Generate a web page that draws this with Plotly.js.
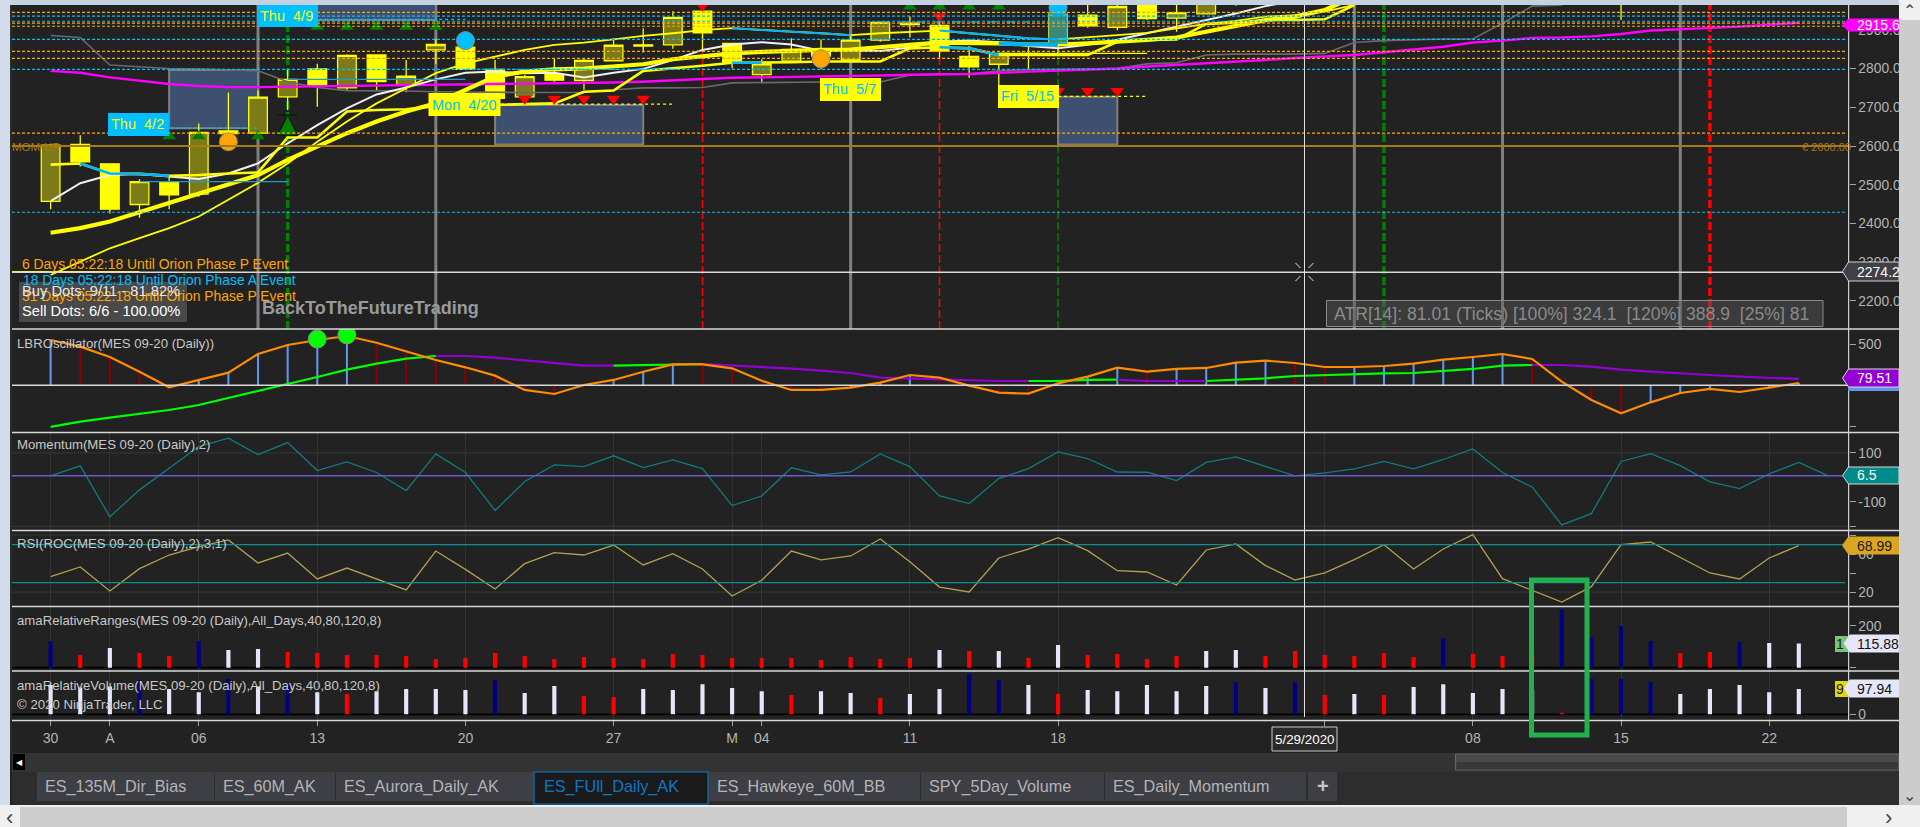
<!DOCTYPE html>
<html><head><meta charset="utf-8">
<script src="https://cdn.plot.ly/plotly-3.0.1.min.js"></script>
<style>html,body{margin:0;padding:0;background:#cdd6e4;overflow:hidden}#c{width:1920px;height:827px}</style>
</head><body><div id="c"></div>
<script>
const open_=[2457,2604,2554,2449,2508,2476,2639,2633,2727,2799,2750,2835,2757,2848,2855,2798,2727,2784,2769,2820,2861,2861,2948,2865,2784,2819,2841,2822,2873,2917,2911,2831,2811,2839,2865,2938,2906,2972,2930,2941,2975,2975,3000,3030,3040,3060,3080,3110,3120,3210,3200,3120,2995,3000,3060,3120,3100,3090,3120,3090];
const close_=[2602,2559,2437,2508,2474,2635,2632,2726,2772,2756,2834,2766,2780,2862,2798,2723,2779,2770,2821,2860,2858,2932,2892,2813,2812,2849,2832,2873,2919,2913,2845,2804,2839,2837,2940,2910,2960,2929,2944,2972,2968,3030,2995,3045,3060,3080,3115,3115,3195,3205,3190,3005,3040,3065,3125,3110,3115,3095,3110,3117];
const high_=[2605,2628,2554,2514,2521,2658,2738,2743,2798,2812,2837,2835,2822,2877,2891,2822,2783,2826,2826,2878,2904,2948,2972,2865,2824,2878,2875,2886,2921,2935,2934,2858,2839,2856,2964,2964,2964,2985,2964,2985,2990,3040,3020,3050,3065,3090,3125,3130,3200,3230,3215,3130,3050,3080,3150,3135,3125,3115,3125,3125];
const low_=[2437,2547,2426,2415,2437,2469,2624,2633,2693,2701,2743,2743,2739,2812,2798,2719,2727,2766,2745,2820,2841,2851,2843,2800,2762,2819,2798,2822,2869,2880,2826,2776,2757,2798,2835,2905,2899,2925,2895,2941,2962,2970,2985,3000,3040,3060,3075,3090,3110,3190,3175,2995,2985,2925,3050,3090,3090,3075,3080,3080];
const maWhite=[2458,2504,2525,2528,2521,2515,2529,2555,2607,2654,2697,2733,2751,2772,2789,2792,2788,2789,2777,2789,2799,2822,2848,2862,2868,2862,2846,2845,2845,2854,2869,2872,2868,2858,2852,2861,2874,2891,2908,2925,2942,2961,2975];
const maMagenta=[2794,2789,2777,2768,2760,2755,2752,2752,2753,2753,2754,2755,2756,2757,2759,2760,2760,2762,2763,2764,2766,2770,2773,2776,2777,2778,2780,2781,2782,2784,2785,2786,2789,2792,2794,2797,2800,2805,2809,2813,2818,2822,2827,2831,2835,2842,2849,2856,2867,2872,2879,2880,2883,2889,2898,2901,2905,2908,2913,2918];
const maGray=[2885,2880,2809,2805,2800,2799,2796,2794,2766,2751,2743,2743,2742,2740,2739,2738,2738,2738,2738,2745,2750,2750,2751,2763,2764,2765,2765,2765,2765,2783,2786,2786,2794,2797,2798,2798,2800,2812,2815,2835,2837,2837,2837,2839,2867,2872,2874,2876,2876,2917,2961,2964];
const maThick=[2376,2388,2405,2429,2454,2478,2502,2525,2564,2598,2633,2663,2689,2710,2745,2779,2792,2798,2800,2805,2811,2824,2831,2839,2843,2846,2848,2849,2854,2861,2867,2867,2865,2862,2862,2865,2869,2874,2880,2895,2910,2925,2934,2951,2985];
const maThin=[2267,2302,2336,2362,2388,2418,2461,2505,2555,2611,2663,2710,2749,2788,2813,2831,2848,2861,2867,2875,2884,2891,2899,2904,2899,2895,2891,2886,2891,2895,2898,2891,2884,2878,2875,2880,2886,2892,2904,2915,2923,2934,2938,2947,2964];
const maStep=[2552,2555,2529,2528,2523,2525,2529,2532,2622,2622,2689,2693,2695,2703,2706,2706,2708,2710,2740,2743,2794,2800,2807,2815,2815,2816,2818,2818,2818,2852,2855,2852,2835,2835,2835,2835,2869,2874,2875,2915,2918,2925,2925,2927,2964];
const blueRuns=[['step',1,4],['step',23,24],['step',30,32],['thin',23,27],['thin',30,34],['thick',32,34]];
const orangeLevels=[2945,2917,2909,2844,2826,2633];
const cyanLevels=[2935,2922,2875,2798,2429];
const grayEvents=[7,13,27,44,49,55];
const greenEvents=[[8,3.5],[34,1.5],[45,3.5]];
const redEvents=[[22,1.5],[30,1.5],[56,3.5]];
const boxFrom=[4,7,15,34], boxTo=[7,13,20,36], boxLow=[2646,2925,2604,2604], boxHigh=[2796,3000,2706,2727];
const trendUp=[4,5,7,9,10,11,12,13,29,30,31,32], trendUpVal=[2625,2625,2625,2908,2908,2908,2908,2908,2960,2960,2960,2960];
const trendDown=[16,17,18,19,20,22,30,34,35,36], trendDownVal=[2722,2722,2722,2722,2722,2962,2935,2742,2742,2742];
const orangeDotX=[6,26], orangeDotY=[2611,2825];
const blueDotX=[14,34], blueDotY=[2872,2957];
const lbrOsc=[549,468,343,165,-24,65,153,379,488,549,597,516,416,307,218,117,-56,-105,4,65,165,254,254,206,56,-56,-56,-28,32,125,93,-4,-89,-101,24,105,214,165,198,210,274,299,270,222,222,234,262,311,343,379,319,44,-178,-339,-206,-93,-44,-81,-28,28];
const lbrSignal=[-504,-440,-391,-343,-299,-238,-153,-77,16,101,190,262,323,355,355,335,303,270,238,238,246,258,258,242,222,202,178,149,93,81,69,61,52,52,52,65,69,52,52,52,65,85,113,125,137,145,149,174,198,238,246,246,226,190,165,149,125,105,93,77];
const lbrHistDir='brrrrbbbbbbrrrrrrrbbbbrrrrrbbbrrrrbbbrbbbbrrbbbbbbrrrrbbbrbb';
const lbrGreenRuns=[[0,13],[19,22],[33,36],[39,50]];
const lbrPurpleRuns=[[13,19],[22,33],[36,39],[50,59]];
const lbrDotX=[9,10], lbrDotY=[560,610];
const momentum=[6,47,-161,-51,37,126,160,93,142,28,63,20,-54,96,20,-135,-17,51,44,88,40,71,36,-115,-76,39,10,22,96,44,-76,-107,-5,36,104,77,22,21,-13,61,84,44,6,18,35,65,35,73,116,20,-39,-194,-148,65,97,48,-18,-46,14,61,6.5];
const rsi=[36.3,46.5,21.2,44.7,59.1,67.9,74.9,50.7,61.2,33.9,45.4,33.9,22.3,63.3,44,23.3,50,61.6,59.1,69.6,48.6,60.5,44.4,16,32.5,63.3,53.9,58.1,76,52.1,25.4,20.2,56,65.4,77.4,63.7,42.6,41.2,27.5,64.4,70.7,47.9,32.8,40.2,54.2,70,44.4,65.4,80.5,34.2,21.9,9.6,25.8,70,72.8,56.3,40.2,33.9,56,68.99];
const rangesVal=[126,61,94,70,56,126,85,90,75,70,61,61,56,42,46,70,56,42,51,46,42,66,61,46,46,46,37,51,42,46,85,80,80,46,109,61,66,42,56,80,85,56,80,61,56,70,51,138,66,56,61,277,147,200,128,70,75,123,118,115.88];
const rangesClass='nrwrrnwwrrrrrrrrrrrrrrrrrrrrrrwrwrwrrrrwwrrrrrrnrrrnnnnrrnww';
const volumeVal=[114,104,108,133,98,86,137,108,120,86,79,90,98,98,94,133,83,110,71,67,98,94,117,102,90,75,90,83,63,79,98,156,133,114,79,94,90,114,90,110,125,102,125,75,79,75,106,117,83,98,94,6,137,137,125,79,98,114,86,97.94];
const volumeClass='wwwnwwnwnwrwwwwnwwrrwwwwwrwwrwwnnwrwwwwwnwnrwrwwwwwrnnnwwwww';
const xTickVals=[0,2,5,9,14,19,23,24,29,34,43,48,53,58];
const xTickText=['30','A','06','13','20','27','M','04','11','18','','08','15','22'];
const tabNames=['ES_135M_Dir_Bias','ES_60M_AK','ES_Aurora_Daily_AK','ES_FUll_Daily_AK','ES_Hawkeye_60M_BB','SPY_5Day_Volume','ES_Daily_Momentum'];
const tabLeft=[37,215,336,534,709,921,1105], tabRight=[214,335,533,708,920,1104,1306];

const W=1920,H=827,F='"Liberation Sans",Arial,sans-serif';
const px=x=>x/W, py=y=>1-y/H;
const idx=a=>a.map((_,i)=>i);
const dom=(t,b)=>[1-b/H,1-t/H];
const xr=[-1.303,60.68];
function run(arr,a,b){return arr.map((v,i)=>(i>=a&&i<=b)?v:null);}
const traces=[];
function line(y,color,width,xa,ya,dash){traces.push({type:'scatter',mode:'lines',x:idx(y),y:y,xaxis:xa,yaxis:ya,line:{color:color,width:width,dash:dash||'solid'},connectgaps:false,hoverinfo:'skip'});}
line(maGray,'#6a6a6a',1.6,'x2','y');
traces.push({type:'candlestick',x:idx(open_),open:open_,high:high_,low:low_,close:close_,xaxis:'x2',yaxis:'y',
 increasing:{line:{color:'#ffff00',width:1.3},fillcolor:'#7d7a18'},decreasing:{line:{color:'#ffff00',width:1.3},fillcolor:'#ffff00'},whiskerwidth:0,hoverinfo:'skip'});
line(maMagenta,'#ff00ff',2.4,'x2','y');
line(maWhite,'#f0f0f5',2,'x2','y');
line(maThin,'#ffff00',1.8,'x2','y');
line(maStep,'#ffff00',2.6,'x2','y');
line(maThick,'#ffff00',4.2,'x2','y');
const maMap={step:[maStep,2.6],thin:[maThin,2],thick:[maThick,4.2]};
blueRuns.forEach(r=>line(run(maMap[r[0]][0],r[1],r[2]),'#00b4ff',maMap[r[0]][1],'x2','y'));
const segs=[[-1.3,3,2276,'#ffff00','solid'],[3,8,2508,'#1f9bd0','solid'],[8,14,2772,'#1f9bd0','solid'],[4.05,6.95,2646,'#00bfff','dot'],[8.05,14,2927,'#00bfff','dot'],[14,21,2798,'#00bfff','dot'],[15,21,2708,'#ffff00','dot'],[34,37,2728,'#ffff00','dot'],[28,33,2920,'#00bfff','dash'],[32,37,2839,'#ffff00','solid']];
segs.forEach(s=>traces.push({type:'scatter',mode:'lines',x:[s[0],s[1]],y:[s[2],s[2]],xaxis:'x2',yaxis:'y',line:{color:s[3],width:1.2,dash:s[4]},hoverinfo:'skip'}));
function mk(x,y,sym,col,size,lc,xa,ya){traces.push({type:'scatter',mode:'markers',x:x,y:y,xaxis:xa||'x2',yaxis:ya||'y',marker:{symbol:sym,color:col,size:size,line:{color:lc||col,width:lc?1:0}},hoverinfo:'skip'});}
mk(trendUp,trendUpVal,'triangle-up','#008000',12);
mk(trendDown,trendDownVal,'triangle-down','#ff0000',12);
mk(orangeDotX,orangeDotY,'circle','#ffa500',18,'#888888');
mk(blueDotX,blueDotY,'circle','#00bfff',18,'#888888');
traces.push({type:'scatter',mode:'markers',x:[8],y:[2680],xaxis:'x2',yaxis:'y',marker:{symbol:'arrow-bar-up',color:'#008000',size:20,line:{color:'#0a0a0a',width:1}},hoverinfo:'skip'});
traces.push({type:'bar',x:idx(lbrOsc),y:lbrOsc,xaxis:'x2',yaxis:'y2',width:0.07,marker:{color:lbrOsc.map((_,i)=>lbrHistDir[i]==='r'?'#8b0000':'#6495ed')},hoverinfo:'skip'});
lbrPurpleRuns.forEach(r=>line(run(lbrSignal,r[0],r[1]),'#9400d3',2.2,'x2','y2'));
lbrGreenRuns.forEach(r=>line(run(lbrSignal,r[0],r[1]),'#00ff00',2.2,'x2','y2'));
line(lbrOsc,'#ff8c00',2.2,'x2','y2');
mk(lbrDotX,lbrDotY,'circle','#00ff00',18,'#888888','x2','y2');
line(momentum,'#0e7c80',1.3,'x','y3');
line(rsi,'#b0a050',1.3,'x','y4');
const clsCol={n:'#000080',r:'#ff0000',w:'#e6e6fa'};
traces.push({type:'bar',x:idx(rangesVal),y:rangesVal,xaxis:'x',yaxis:'y5',width:0.14,marker:{color:rangesVal.map((_,i)=>clsCol[rangesClass[i]])},hoverinfo:'skip'});
traces.push({type:'bar',x:idx(volumeVal),y:volumeVal,xaxis:'x',yaxis:'y6',width:0.14,marker:{color:volumeVal.map((_,i)=>clsCol[volumeClass[i]])},hoverinfo:'skip'});

const shapes=[],ann=[];
function rectP(x0,y0,x1,y1,fill,lc,lw,layer){shapes.push({type:'rect',xref:'paper',yref:'paper',x0:px(x0),x1:px(x1),y0:py(y0),y1:py(y1),fillcolor:fill,line:{color:lc||fill,width:lw===undefined?0:lw},layer:layer||'above'});}
function lineP(x0,y0,x1,y1,c,w,layer){shapes.push({type:'line',xref:'paper',yref:'paper',x0:px(x0),x1:px(x1),y0:py(y0),y1:py(y1),line:{color:c,width:w},layer:layer||'above'});}
function txt(x,y,t,col,size,opts){ann.push(Object.assign({xref:'paper',yref:'paper',x:px(x),y:py(y),text:t,showarrow:false,xanchor:'left',yanchor:'middle',borderpad:0,borderwidth:0,font:{family:F,color:col,size:size}},opts||{}));}
function tag(t,y0,y1,fill,tc,border,x){x=x||1842.5;shapes.push({type:'path',xref:'paper',yref:'paper',layer:'above',fillcolor:fill,line:{color:border||fill,width:1},path:`M ${px(x)} ${py((y0+y1)/2)} L ${px(x+6)} ${py(y0)} L ${px(1899)} ${py(y0)} L ${px(1899)} ${py(y1)} L ${px(x+6)} ${py(y1)} Z`});txt(1857,(y0+y1)/2,t,tc,14,{width:42,height:18,align:'left'});}
grayEvents.forEach(i=>shapes.push({type:'line',xref:'x2',yref:'paper',x0:i,x1:i,y0:py(329),y1:py(5),line:{color:'#808080',width:3},layer:'below'}));
redEvents.forEach(e=>shapes.push({type:'line',xref:'x2',yref:'paper',x0:e[0],x1:e[0],y0:py(329),y1:py(5),line:{color:'#ff0000',width:e[1],dash:'8px,3px'},layer:'below'}));
greenEvents.forEach(e=>shapes.push({type:'line',xref:'x2',yref:'paper',x0:e[0],x1:e[0],y0:py(329),y1:py(5),line:{color:'#008000',width:e[1],dash:'8px,3px'},layer:'below'}));
boxFrom.forEach((a,k)=>shapes.push({type:'rect',xref:'x2',yref:'y',x0:a,x1:boxTo[k],y0:boxLow[k],y1:boxHigh[k],fillcolor:'#3d5070',line:{color:'#808080',width:2},layer:'below'}));
shapes.push({type:'rect',xref:'x2',yref:'y',x0:33.7,x1:34.3,y0:2865,y1:2940,fillcolor:'rgba(0,150,200,0.55)',line:{color:'#00a0d8',width:1},layer:'above'});
orangeLevels.forEach(v=>shapes.push({type:'line',xref:'paper',yref:'y',x0:px(12),x1:px(1846),y0:v,y1:v,line:{color:'#ffa500',width:1.2,dash:'3px,2px'},layer:'above'}));
cyanLevels.forEach(v=>shapes.push({type:'line',xref:'paper',yref:'y',x0:px(12),x1:px(1846),y0:v,y1:v,line:{color:'#00bfff',width:1.2,dash:'3px,2px'},layer:'above'}));
shapes.push({type:'line',xref:'paper',yref:'y',x0:px(12),x1:px(1848),y0:2600,y1:2600,line:{color:'#a87a14',width:2.2},layer:'above'});
shapes.push({type:'line',xref:'paper',yref:'y',x0:px(12),x1:px(1848),y0:2274.25,y1:2274.25,line:{color:'#d8d8d8',width:1.5},layer:'above'});
[['y2',0,'#d8d8d8',1.6,'above'],['y3',6.5,'#6a5acd',1.4,'above'],['y4',70,'#0f8f8f',1.4,'above'],['y4',30,'#0f8f8f',1.4,'above'],['y5',0,'#000000',1.6,'below'],['y6',0,'#000000',1.6,'below']].forEach(l=>shapes.push({type:'line',xref:'paper',yref:l[0],x0:px(12),x1:px(l[0]==='y4'||l[0]==='y3'?1845:1848),y0:l[1],y1:l[1],line:{color:l[2],width:l[3]},layer:l[4]}));
[['y3',100],['y3',-200],['y4',80],['y4',20]].forEach(g=>shapes.push({type:'line',xref:'paper',yref:g[0],x0:px(12),x1:px(1848),y0:g[1],y1:g[1],line:{color:'#333333',width:1.2},layer:'below'}));
rectP(0,0,W,5,'#c5d0e0');rectP(0,0,10,807,'#d3dcea');rectP(10,5,12,753,'#2b2b2b');
[329,432.5,530.5,606.5,671,720.5].forEach(y=>lineP(12,y,1899,y,'#d8d8d8',1.5));
lineP(1848.6,5,1848.6,720.5,'#d0d0d0',1.2);
lineP(1304.5,5,1304.5,717,'#e0e0e0',1);
[[-9,-9,-4,-4],[9,-9,4,-4],[-9,9,-4,4],[9,9,4,4]].forEach(d=>lineP(1304.5+d[0],272+d[1],1304.5+d[2],272+d[3],'#e8e8e8',1));
rectP(19,282,187,322,'rgba(90,90,90,0.7)');
rectP(1326.5,300.5,1823,326.5,'rgba(90,90,90,0.45)','#8a8a8a',1);
const lab=(x0,y0,x1,y1,bg,t,tc)=>{rectP(x0,y0,x1,y1,bg);txt(x0+3,(y0+y1)/2,t,tc,14.5);};
lab(108,113,169,136,'#00bfff','Thu&nbsp;&nbsp;4/2','#ffff00');
lab(257,5,318,27,'#00bfff','Thu&nbsp;&nbsp;4/9','#ffff00');
lab(428.5,93,500.5,116,'#ffff00','Mon&nbsp;&nbsp;4/20','#00bfff');
lab(820,78,881,101,'#ffff00','Thu&nbsp;&nbsp;5/7','#00bfff');
lab(998,85,1059,108,'#ffff00','Fri&nbsp;&nbsp;5/15','#00bfff');
txt(12,147,'MOM-UP','#a87a14',11.5);
txt(1802,147,'€ 2600.00','#a87a14',11);
txt(22,264,'6 Days 05:22:18 Until Orion Phase P Event','#ffa500',13.9);
txt(23,280,'18 Days 05:22:18 Until Orion Phase A Event','#00bfff',13.9);
txt(22,296,'31 Days 05:22:18 Until Orion Phase P Event','#ffa500',13.9);
txt(22,291,'Buy Dots: 9/11 - 81.82%','#e8e8e8',14.7);
txt(22,311,'Sell Dots: 6/6 - 100.00%','#ffffff',14.7);
txt(262,308,'<b>BackToTheFutureTrading</b>','#9a9a9a',18);
txt(1334,314,'ATR[14]: 81.01 (Ticks) [100%] 324.1&nbsp;&nbsp;[120%] 388.9&nbsp;&nbsp;[25%] 81','#8a8a8a',17.6);
const T='#c8c8c8';
txt(17,343,'LBROscillator(MES 09-20 (Daily))',T,13.2);
txt(17,445,'Momentum(MES 09-20 (Daily),2)',T,13.2);
txt(17,543,'RSI(ROC(MES 09-20 (Daily),2),3,1)',T,13.2);
txt(17,620,'amaRelativeRanges(MES 09-20 (Daily),All_Days,40,80,120,8)',T,13.2);
txt(17,685,'amaRelativeVolume(MES 09-20 (Daily),All_Days,40,80,120,8)',T,13.2);
txt(17,704,'© 2020 NinjaTrader, LLC',T,13.2);
tag('2915.60',19,31,'#ff00ff','#ffffff');
tag('2274.25',262,281,'#404048','#ffffff','#d0d0d0');
rectP(1848,372,1899,391,'#6495ed');
tag('79.51',369,387,'#9400d3','#ffffff','#d8d8d8');
tag('6.5',467,484,'#008b8b','#ffffff','#d8d8d8');
tag('68.99',537,554,'#daa520','#1a1a1a');
rectP(1835,636,1848,652,'#7ac57a');txt(1836,644,'1','#1a1a1a',14);
tag('115.88',635,652,'#e6e6fa','#111111',null,1844);
rectP(1835,681,1848,697,'#e0d800');txt(1836,689,'9','#1a1a1a',14);
tag('97.94',680,697,'#e6e6fa','#111111',null,1844);
rectP(1272,727,1337,751,'#2a2a2a','#c8c8c8',1);txt(1304.5,739,'5/29/2020','#ffffff',13.4,{xanchor:'center'});
rectP(1531.5,580,1587,735,'rgba(0,0,0,0)','#22b14c',5);
rectP(12,753,1899,772,'#333333');
rectP(13,754,25,770,'#000000');txt(16,762,'◀','#ffffff',8);
rectP(1455.5,754,1899,770,'#4a4a4a','#666666',1);
rectP(1456.5,762,1898,769.5,'#383838');
rectP(12,772,1899,805,'#2d2d2d');
tabNames.forEach((n,k)=>{const act=k===3;rectP(tabLeft[k],772,tabRight[k],act?804:801,act?'#1a1a1a':'#3e3e45',act?'#0a78c8':'#3e3e45',act?1.2:0);txt(tabLeft[k]+8+(act?2:0),786,n,act?'#0a78c8':'#b4b4b8',16.2);});
rectP(1308,772,1337,801,'#3e3e45');txt(1322.5,786,'<b>+</b>','#c8c8c8',20,{xanchor:'center'});
rectP(1899,0,W,805,'#cccccc');rectP(1899,0,W,20,'#f0f0f0');
rectP(0,805,W,827,'#f0f0f0');rectP(20,807,1847,827,'#cdcdcd');
txt(1909.5,10,'⌃','#444444',16,{xanchor:'center'});
txt(1909.5,795,'⌄','#444444',16,{xanchor:'center'});
txt(9,817,'‹','#444444',22,{xanchor:'center'});
txt(1888,817,'›','#444444',22,{xanchor:'center'});

const axY=(d,r,o)=>Object.assign({domain:d,range:r,side:'right',showgrid:false,zeroline:false,showline:false,ticks:'outside',ticklen:6,tickcolor:'#a0a0a0',tickfont:{family:F,color:'#b4b4b4',size:13.8},fixedrange:true},o);
const layout={width:W,height:H,margin:{l:0,r:0,t:0,b:0},paper_bgcolor:'#222222',plot_bgcolor:'rgba(0,0,0,0)',showlegend:false,barmode:'overlay',boxgap:0.1,hovermode:false,dragmode:false,
 xaxis:{domain:[px(12),px(1848.6)],range:xr,anchor:'y6',tickmode:'array',tickvals:xTickVals,ticktext:xTickText,ticks:'outside',ticklen:5,tickcolor:'#a0a0a0',tickfont:{family:F,color:'#b4b4b4',size:14},showgrid:true,gridcolor:'#333333',gridwidth:1,zeroline:false,showline:false,fixedrange:true,rangeslider:{visible:false}},
 xaxis2:{domain:[px(12),px(1848.6)],range:xr,anchor:'y',visible:false,fixedrange:true,rangeslider:{visible:false}},
 yaxis:axY(dom(5,329),[2127.7,2963.9],{anchor:'x2',tickmode:'array',tickvals:[2200,2300,2400,2500,2600,2700,2800,2900],ticktext:['2200.00','2300.00','2400.00','2500.00','2600.00','2700.00','2800.00','2900.00']}),
 yaxis2:axY(dom(329,432.3),[-569,682],{anchor:'x2',tickmode:'array',tickvals:[-500,500],ticktext:['','500']}),
 yaxis3:axY(dom(432.3,530.3),[-216,184],{anchor:'x',tickmode:'array',tickvals:[-200,-100,100],ticktext:['','-100','100']}),
 yaxis4:axY(dom(530.3,606.3),[5.1,85.1],{anchor:'x',tickmode:'array',tickvals:[20,40,60,80],ticktext:['20','','60','']}),
 yaxis5:axY(dom(606.3,671),[-16,294],{anchor:'x',tickmode:'array',tickvals:[0,200],ticktext:['','200']}),
 yaxis6:axY(dom(671,720.3),[-23,168],{anchor:'x',tickmode:'array',tickvals:[0],ticktext:['0']}),
 shapes:shapes,annotations:ann};
Plotly.newPlot('c',traces,layout,{displayModeBar:false,staticPlot:true});
</script></body></html>
